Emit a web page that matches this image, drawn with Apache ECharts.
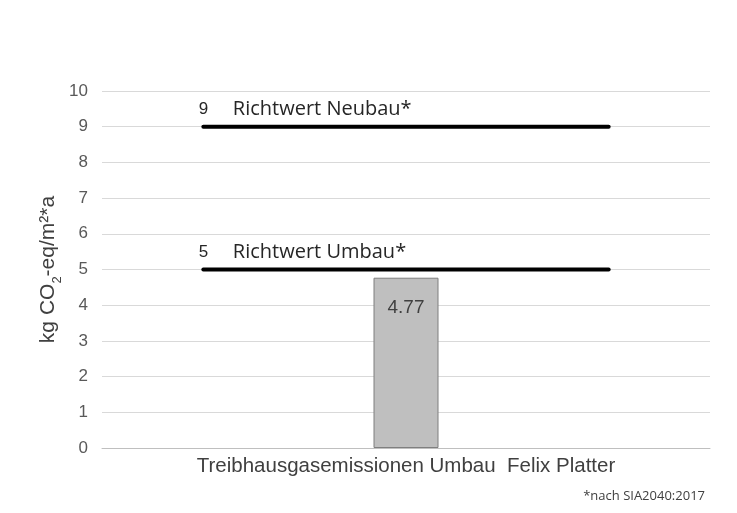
<!DOCTYPE html>
<html>
<head>
<meta charset="utf-8">
<script src="https://cdn.jsdelivr.net/npm/echarts@6/dist/echarts.min.js"></script>
<style>
  html, body { margin: 0; padding: 0; background: #fff; }
  #chart { width: 737px; height: 513px; }
</style>
</head>
<body>
<div id="chart"></div>
<script>
// chart data
const categories = ['Treibhausgasemissionen Umbau  Felix Platter'];
const barValues = [4.77];
const guideNames = ['Richtwert Neubau*', 'Richtwert Umbau*'];
const guideValues = [9, 5];
// guide lines run from x=1 to x=5 on a hidden 0..6 axis
const guideStart = 1;
const guideEnd = 5;
const yTicks = [0, 10, 1]; // min, max, interval

var myChart = echarts.init(document.getElementById('chart'));

// one line series per guide value, label sits above the left end
var guideSeries = guideValues.map(function (v, i) {
  return {
    name: guideNames[i],
    type: 'line',
    xAxisIndex: 1,
    yAxisIndex: 0,
    symbol: 'circle',
    symbolSize: 1,
    silent: true,
    lineStyle: { color: '#000', width: 4, cap: 'round' },
    itemStyle: { color: '#000' },
    data: [
      {
        value: [guideStart, v],
        label: {
          show: true,
          position: [-4, -17],
          align: 'left',
          verticalAlign: 'middle',
          formatter: '{v|' + v + '}{t|' + guideNames[i] + '}',
          rich: {
            v: { fontFamily: 'Liberation Sans', fontSize: 17, color: '#262626', width: 34 },
            t: { fontFamily: 'Open Sans', fontSize: 20, color: '#262626' }
          }
        }
      },
      [guideEnd, v]
    ]
  };
});

var option = {
  animation: false,
  backgroundColor: '#fff',
  title: {
    text: '*nach SIA2040:2017',
    right: 27,
    bottom: 5,
    textStyle: { fontFamily: 'Open Sans', fontSize: 13, fontWeight: 'normal', color: '#404040' }
  },
  grid: { left: 102, right: 27, top: 91, bottom: 65 },
  xAxis: [
    {
      type: 'category',
      data: categories,
      axisLine: { lineStyle: { color: '#bfbfbf', width: 1 } },
      axisTick: { show: false },
      axisLabel: { fontFamily: 'Liberation Sans', fontSize: 20.5, color: '#404040', margin: 8 }
    },
    {
      type: 'value',
      min: 0,
      max: 6,
      show: false
    }
  ],
  yAxis: {
    type: 'value',
    min: yTicks[0],
    max: yTicks[1],
    interval: yTicks[2],
    name: '{n|kg CO}{s|2}{n|-eq/m²*a}',
    nameLocation: 'middle',
    nameGap: 42,
    nameRotate: 90,
    nameMoveOverlap: false,
    nameTextStyle: {
      rich: {
        n: { fontFamily: 'Liberation Sans', fontSize: 21, color: '#404040', lineHeight: 24, verticalAlign: 'middle' },
        s: { fontFamily: 'Liberation Sans', fontSize: 13, color: '#404040', lineHeight: 24, verticalAlign: 'bottom', padding: [0, 0, -4, 0] }
      }
    },
    axisLine: { show: false },
    axisTick: { show: false },
    axisLabel: { fontFamily: 'Liberation Sans', fontSize: 17, color: '#595959', margin: 14 },
    splitLine: { lineStyle: { color: '#d9d9d9', width: 1 } }
  },
  series: [
    {
      type: 'bar',
      data: barValues,
      barWidth: 65,
      itemStyle: { color: '#bfbfbf', borderColor: '#7f7f7f', borderWidth: 1 },
      label: {
        show: true,
        position: 'insideTop',
        distance: 21,
        fontFamily: 'Liberation Sans',
        fontSize: 19,
        color: '#404040'
      }
    }
  ].concat(guideSeries)
};

myChart.setOption(option);
</script>
</body>
</html>
